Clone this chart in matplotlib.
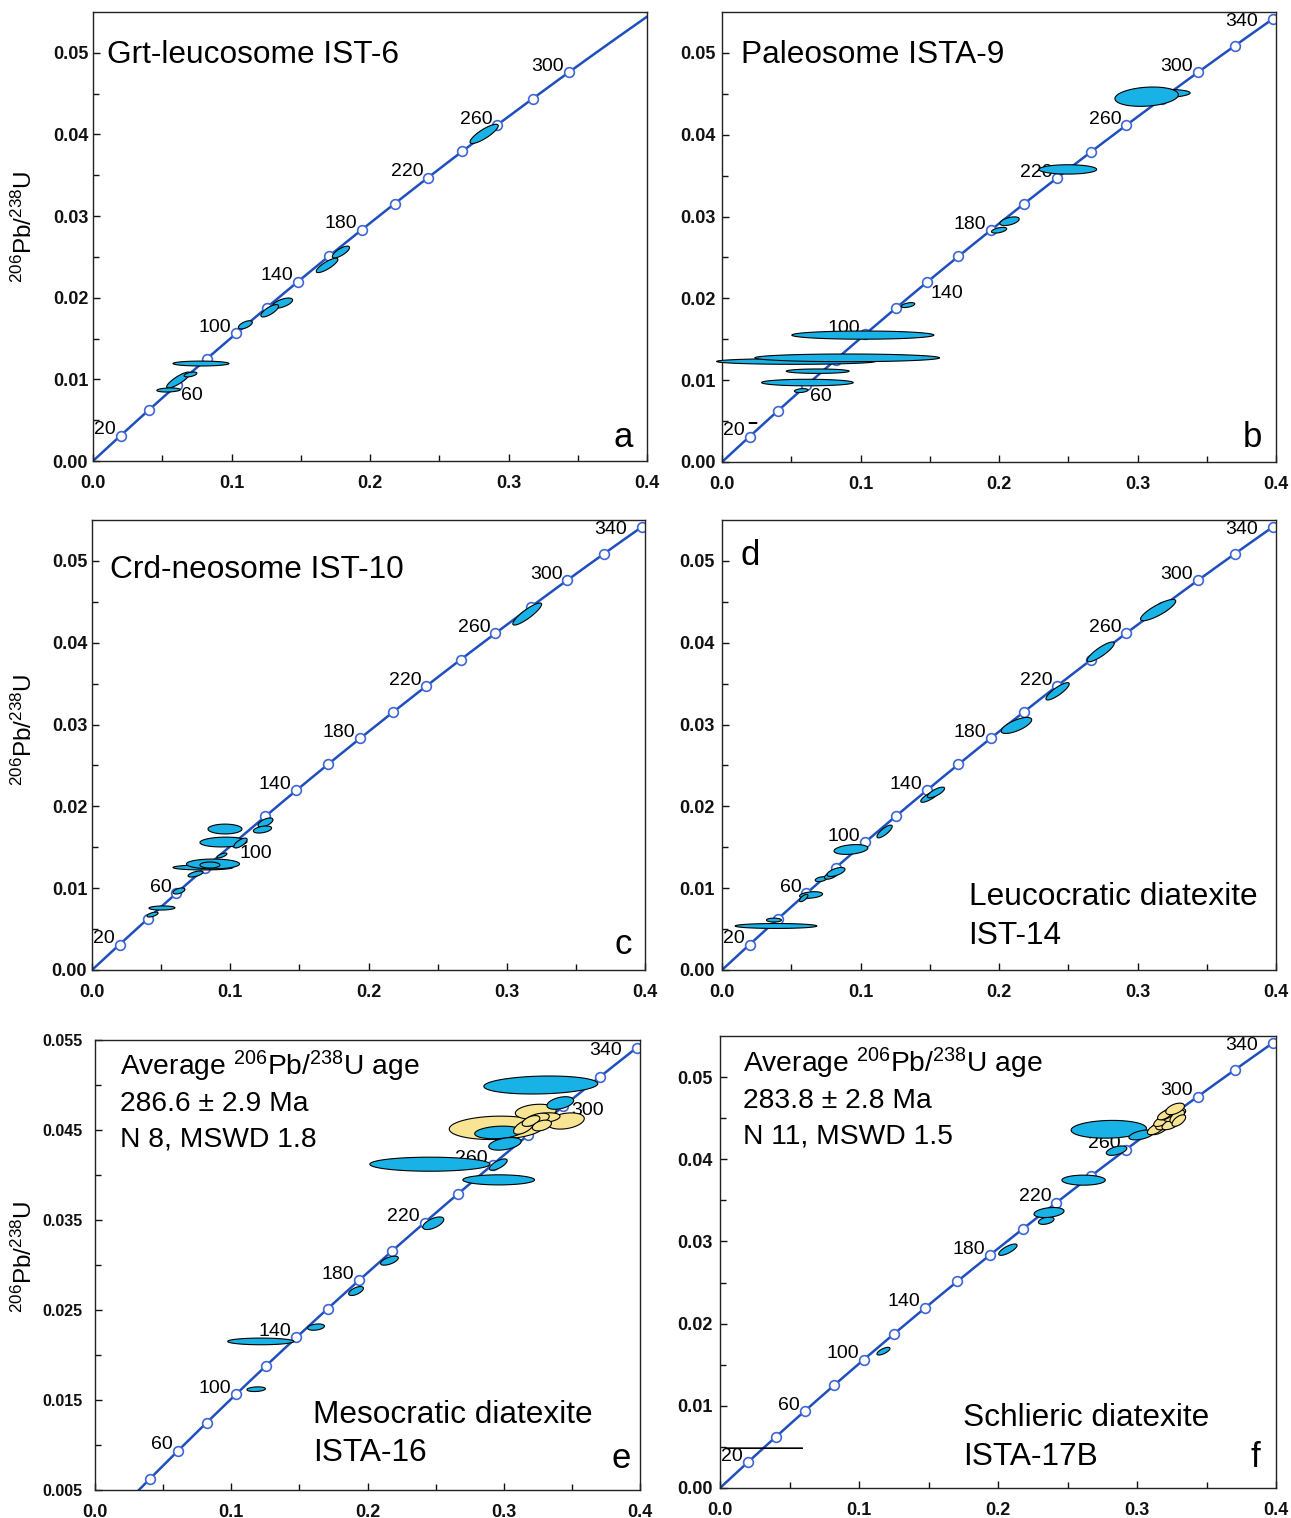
import numpy as np
import matplotlib
matplotlib.use('Agg')
import matplotlib.pyplot as plt

plt.rcParams['font.family'] = ['Liberation Sans', 'DejaVu Sans']
plt.rcParams['mathtext.fontset'] = 'custom'
plt.rcParams['mathtext.rm'] = 'Liberation Sans'
plt.rcParams['mathtext.it'] = 'Liberation Sans:italic'
plt.rcParams['mathtext.bf'] = 'Liberation Sans:bold'

# Decay constants (1/yr) used for the concordia curve
L238 = 1.55125e-10
L235 = 9.8485e-10

# Ages (Ma) of the concordia tick marks, and the ones that get a label
markAges = [20, 40, 60, 80, 100, 120, 140, 160, 180, 200, 220, 240, 260, 280, 300, 320, 340]
labelAges = [20, 60, 100, 140, 180, 220, 260, 300, 340]

# Ellipses: (207Pb/235U, 1s, 206Pb/238U, 1s, rho, colour code b=blue y=yellow)
ellA = [
    (0.0780, 0.0202, 0.01194, 0.00030, 0.0, 'b'),
    (0.0617, 0.0085, 0.00992, 0.00098, 0.85, 'b'),
    (0.0704, 0.0046, 0.01060, 0.00030, 0.5, 'b'),
    (0.0545, 0.0084, 0.00870, 0.00025, 0.2, 'b'),
    (0.1100, 0.0050, 0.01668, 0.00050, 0.6, 'b'),
    (0.1368, 0.0073, 0.01934, 0.00062, 0.6, 'b'),
    (0.1276, 0.0064, 0.01840, 0.00076, 0.75, 'b'),
    (0.1690, 0.0078, 0.02396, 0.00088, 0.82, 'b'),
    (0.1790, 0.0062, 0.02560, 0.00072, 0.75, 'b'),
    (0.2824, 0.0102, 0.04007, 0.00118, 0.84, 'b'),
]
ellB = [
    (0.0534, 0.0573, 0.01229, 0.00035, 0.0, 'b'),
    (0.0904, 0.0667, 0.01273, 0.00047, 0.0, 'b'),
    (0.1017, 0.0513, 0.01551, 0.00050, 0.0, 'b'),
    (0.0691, 0.0227, 0.01110, 0.00027, 0.0, 'b'),
    (0.0617, 0.0331, 0.00971, 0.00040, 0.0, 'b'),
    (0.0572, 0.0049, 0.00873, 0.00024, 0.3, 'b'),
    (0.0224, 0.0030, 0.00477, 0.00001, 0.0, 'b'),
    (0.1343, 0.0049, 0.01918, 0.00030, 0.5, 'b'),
    (0.2001, 0.0055, 0.02833, 0.00035, 0.5, 'b'),
    (0.2076, 0.0070, 0.02943, 0.00053, 0.5, 'b'),
    (0.2497, 0.0208, 0.03576, 0.00057, 0.0, 'b'),
    (0.3150, 0.0230, 0.04500, 0.00055, 0.2, 'b'),
    (0.3066, 0.0229, 0.04465, 0.00118, 0.2, 'b'),
]
ellC = [
    (0.0506, 0.0094, 0.00758, 0.00025, 0.1, 'b'),
    (0.0438, 0.0040, 0.00678, 0.00030, 0.6, 'b'),
    (0.0629, 0.0043, 0.00966, 0.00037, 0.5, 'b'),
    (0.0749, 0.0054, 0.01173, 0.00037, 0.6, 'b'),
    (0.0803, 0.0217, 0.01253, 0.00030, 0.0, 'b'),
    (0.0875, 0.0192, 0.01296, 0.00060, 0.0, 'b'),
    (0.0853, 0.0072, 0.01283, 0.00037, 0.0, 'b'),
    (0.0940, 0.0036, 0.01400, 0.00030, 0.7, 'b'),
    (0.0962, 0.0123, 0.01723, 0.00060, 0.0, 'b'),
    (0.0951, 0.0170, 0.01564, 0.00060, 0.1, 'b'),
    (0.1074, 0.0048, 0.01552, 0.00060, 0.7, 'b'),
    (0.1255, 0.0054, 0.01803, 0.00055, 0.6, 'b'),
    (0.1233, 0.0066, 0.01717, 0.00043, 0.4, 'b'),
    (0.3148, 0.0104, 0.04351, 0.00135, 0.88, 'b'),
]
ellD = [
    (0.0390, 0.0295, 0.00538, 0.00030, 0.0, 'b'),
    (0.0375, 0.0054, 0.00610, 0.00024, 0.0, 'b'),
    (0.0643, 0.0083, 0.00917, 0.00040, 0.3, 'b'),
    (0.0590, 0.0030, 0.00880, 0.00045, 0.7, 'b'),
    (0.0715, 0.0042, 0.01110, 0.00030, 0.4, 'b'),
    (0.0790, 0.0050, 0.01160, 0.00050, 0.6, 'b'),
    (0.0823, 0.0065, 0.01198, 0.00055, 0.6, 'b'),
    (0.0931, 0.0122, 0.01473, 0.00060, 0.3, 'b'),
    (0.1174, 0.0055, 0.01693, 0.00078, 0.8, 'b'),
    (0.1500, 0.0065, 0.02120, 0.00070, 0.8, 'b'),
    (0.1545, 0.0062, 0.02170, 0.00065, 0.75, 'b'),
    (0.2126, 0.0110, 0.02989, 0.00098, 0.7, 'b'),
    (0.2423, 0.0084, 0.03406, 0.00106, 0.85, 'b'),
    (0.2734, 0.0098, 0.03888, 0.00121, 0.86, 'b'),
    (0.3149, 0.0127, 0.04399, 0.00130, 0.84, 'b'),
]
ellE = [
    (0.1183, 0.0068, 0.01620, 0.00026, 0.2, 'b'),
    (0.1217, 0.0243, 0.02151, 0.00037, 0.0, 'b'),
    (0.1622, 0.0062, 0.02310, 0.00035, 0.3, 'b'),
    (0.1916, 0.0054, 0.02711, 0.00050, 0.6, 'b'),
    (0.2161, 0.0065, 0.03048, 0.00050, 0.6, 'b'),
    (0.2483, 0.0077, 0.03464, 0.00070, 0.6, 'b'),
    (0.2963, 0.0263, 0.03946, 0.00056, 0.0, 'b'),
    (0.2458, 0.0441, 0.04120, 0.00078, 0.0, 'b'),
    (0.2960, 0.0065, 0.04116, 0.00063, 0.7, 'b'),
    (0.2944, 0.0344, 0.04524, 0.00130, 0.1, 'y'),
    (0.2960, 0.0173, 0.04473, 0.00070, 0.2, 'b'),
    (0.3009, 0.0119, 0.04346, 0.00070, 0.4, 'b'),
    (0.3235, 0.0150, 0.04703, 0.00083, 0.2, 'y'),
    (0.3455, 0.0136, 0.04600, 0.00090, 0.3, 'y'),
    (0.3149, 0.0077, 0.04536, 0.00083, 0.6, 'y'),
    (0.3303, 0.0110, 0.04636, 0.00055, 0.3, 'y'),
    (0.3241, 0.0093, 0.04617, 0.00070, 0.5, 'y'),
    (0.3200, 0.0065, 0.04600, 0.00060, 0.5, 'y'),
    (0.3280, 0.0070, 0.04550, 0.00060, 0.4, 'y'),
    (0.3272, 0.0418, 0.05000, 0.00100, 0.15, 'b'),
    (0.3415, 0.0098, 0.04800, 0.00070, 0.4, 'b'),
]
ellF = [
    (0.0317, 0.0279, 0.00484, 0.00002, 0.0, 'b'),
    (0.1176, 0.0047, 0.01665, 0.00047, 0.7, 'b'),
    (0.2071, 0.0066, 0.02900, 0.00069, 0.75, 'b'),
    (0.2347, 0.0056, 0.03253, 0.00045, 0.4, 'b'),
    (0.2367, 0.0108, 0.03352, 0.00061, 0.3, 'b'),
    (0.2616, 0.0156, 0.03746, 0.00061, 0.0, 'b'),
    (0.2853, 0.0074, 0.04105, 0.00057, 0.5, 'b'),
    (0.2797, 0.0271, 0.04365, 0.00108, 0.1, 'b'),
    (0.3031, 0.0089, 0.04296, 0.00060, 0.5, 'b'),
    (0.3164, 0.0074, 0.04389, 0.00090, 0.6, 'y'),
    (0.3135, 0.0060, 0.04369, 0.00070, 0.6, 'y'),
    (0.3224, 0.0089, 0.04438, 0.00080, 0.6, 'y'),
    (0.3194, 0.0074, 0.04479, 0.00080, 0.7, 'y'),
    (0.3247, 0.0067, 0.04430, 0.00070, 0.6, 'y'),
    (0.3271, 0.0079, 0.04540, 0.00080, 0.6, 'y'),
    (0.3224, 0.0060, 0.04560, 0.00080, 0.7, 'y'),
    (0.3200, 0.0052, 0.04540, 0.00060, 0.6, 'y'),
    (0.3289, 0.0052, 0.04520, 0.00080, 0.6, 'y'),
    (0.3301, 0.0049, 0.04471, 0.00070, 0.6, 'y'),
    (0.3274, 0.0067, 0.04613, 0.00070, 0.5, 'y'),
]

BLUE = '#18b2e6'
YELLOW = '#f8e593'
LINE = '#1f4fbd'
MARK = '#3f66d6'
W, H = 1291, 1518


def pixelAxes(fig, left, top, right, bottom):
    """Add an axes given its box in pixels of the final image"""
    return fig.add_axes([left / W, 1 - bottom / H, (right - left) / W, (bottom - top) / H])


def setupAxes(ax, ymin, yticks, ylabels, yminor, ypad, ysize=13):
    ax.set_xlim(0, 0.4)
    ax.set_ylim(ymin, 0.055)
    ax.set_xticks([0, 0.1, 0.2, 0.3, 0.4])
    ax.set_xticklabels(['0.0', '0.1', '0.2', '0.3', '0.4'])
    ax.set_xticks([0.05, 0.15, 0.25, 0.35], minor=True)
    ax.set_yticks(yticks)
    ax.set_yticklabels(ylabels)
    ax.set_yticks(yminor, minor=True)
    ax.tick_params(which='both', direction='in', top=False, right=False,
                   width=1.0, colors='#111111')
    ax.tick_params(which='major', length=5)
    ax.tick_params(which='minor', length=4)
    ax.tick_params(axis='x', which='major', pad=10, labelsize=13)
    ax.tick_params(axis='y', which='major', pad=ypad, labelsize=ysize)
    for lab in ax.get_xticklabels() + ax.get_yticklabels():
        lab.set_fontweight('bold')
    for sp in ax.spines.values():
        sp.set_linewidth(1.0)
        sp.set_color('#222222')


def drawEllipses(ax, rows):
    t = np.linspace(0, 2 * np.pi, 120)
    for x, sx, y, sy, rho, c in rows:
        ex = x + sx * np.cos(t)
        ey = y + sy * (rho * np.cos(t) + np.sqrt(1 - rho ** 2) * np.sin(t))
        ax.fill(ex, ey, facecolor=BLUE if c == 'b' else YELLOW,
                edgecolor='black', lw=0.8, zorder=3, clip_on=False)


def drawConcordia(ax, ages, labels, sides):
    t = np.linspace(0, 400e6, 800)
    ax.plot(np.exp(L235 * t) - 1, np.exp(L238 * t) - 1, color=LINE, lw=1.8, zorder=1)
    ta = np.array(ages) * 1e6
    ax.plot(np.exp(L235 * ta) - 1, np.exp(L238 * ta) - 1, 'o', ms=7, mfc='white',
            mec=MARK, mew=1.2, zorder=2)
    for age in labels:
        x = np.exp(L235 * age * 1e6) - 1
        y = np.exp(L238 * age * 1e6) - 1
        side = sides.get(age, 'L')
        if age == 340:
            side = 'W'
        if side == 'L':
            ax.annotate(str(age), (x, y), xytext=(-3.5, 1), textcoords='offset points',
                        ha='right', va='baseline', fontsize=14, zorder=1.5)
        elif side == 'R':
            ax.annotate(str(age), (x, y), xytext=(3, -2), textcoords='offset points',
                        ha='left', va='top', fontsize=14, zorder=1.5)
        elif side == 'W':
            ax.annotate(str(age), (x, y), xytext=(-11, -2), textcoords='offset points',
                        ha='right', va='center', fontsize=14, zorder=1.5)
        else:
            ax.annotate(str(age), (x, y), xytext=(6, -3), textcoords='offset points',
                        ha='left', va='center', fontsize=14, zorder=1.5)


def textLines(ax, x, y, lines, step, size):
    for i, s in enumerate(lines):
        ax.text(x, y - i * step, s, transform=ax.transAxes, fontsize=size,
                ha='left', va='baseline')


def letter(ax, x, y, s):
    ax.text(x, y, s, transform=ax.transAxes, fontsize=25, ha='right', va='baseline')


yt = [0.0, 0.01, 0.02, 0.03, 0.04, 0.05]
ytl = ['0.00', '0.01', '0.02', '0.03', '0.04', '0.05']
ym = [0.005, 0.015, 0.025, 0.035, 0.045]
ytE = [0.005, 0.015, 0.025, 0.035, 0.045, 0.055]
ytlE = ['0.005', '0.015', '0.025', '0.035', '0.045', '0.055']
ymE = [0.01, 0.02, 0.03, 0.04, 0.05]
ylab = r'$^{206}$Pb/$^{238}$U'

fig = plt.figure(figsize=(W / 100, H / 100), dpi=100)

# (a) Grt-leucosome
ax = pixelAxes(fig, 93, 12, 647, 461)
setupAxes(ax, 0, yt, ytl, ym, 3.5)
drawConcordia(ax, [a for a in markAges if a <= 300], [a for a in labelAges if a <= 300], {60: 'R'})
drawEllipses(ax, ellA)
ax.text(0.025, 0.886, 'Grt-leucosome IST-6', transform=ax.transAxes, fontsize=22.8, va='baseline')
letter(ax, 0.975, 0.031, 'a')

# (b) Paleosome
ax = pixelAxes(fig, 722, 12, 1276, 462)
setupAxes(ax, 0, yt, ytl, ym, 4.5)
drawConcordia(ax, markAges, labelAges, {60: 'R', 140: 'R'})
drawEllipses(ax, ellB)
ax.text(0.034, 0.887, 'Paleosome ISTA-9', transform=ax.transAxes, fontsize=22.8, va='baseline')
letter(ax, 0.975, 0.033, 'b')

# (c) Crd-neosome
ax = pixelAxes(fig, 92, 520, 645, 970)
setupAxes(ax, 0, yt, ytl, ym, 3.5)
drawConcordia(ax, markAges, labelAges, {100: 'R'})
drawEllipses(ax, ellC)
ax.text(0.033, 0.871, 'Crd-neosome IST-10', transform=ax.transAxes, fontsize=22.8, va='baseline')
letter(ax, 0.976, 0.036, 'c')

# (d) Leucocratic diatexite
ax = pixelAxes(fig, 722, 520, 1276, 970)
setupAxes(ax, 0, yt, ytl, ym, 5.5)
drawConcordia(ax, markAges, labelAges, {})
drawEllipses(ax, ellD)
ax.text(0.034, 0.9, 'd', transform=ax.transAxes, fontsize=25, va='baseline')
textLines(ax, 0.445, 0.144, ['Leucocratic diatexite', 'IST-14'], 0.086, 22.8)

# (e) Mesocratic diatexite
ax = pixelAxes(fig, 95, 1040, 640, 1490)
setupAxes(ax, 0.005, ytE, ytlE, ymE, 9, 11.5)
drawConcordia(ax, [a for a in markAges if a >= 40], [a for a in labelAges if a >= 60], {300: 'E'})
drawEllipses(ax, ellE)
textLines(ax, 0.046, 0.922, ['Average ' + ylab + ' age', '286.6 \u00b1 2.9 Ma', 'N 8, MSWD 1.8'], 0.0793, 20.3)
textLines(ax, 0.40, 0.149, ['Mesocratic diatexite', 'ISTA-16'], 0.085, 22.8)
letter(ax, 0.983, 0.049, 'e')

# (f) Schlieric diatexite
ax = pixelAxes(fig, 720, 1036, 1276, 1488)
setupAxes(ax, 0, yt, ytl, ym, 5.5)
drawConcordia(ax, markAges, labelAges, {})
drawEllipses(ax, ellF)
textLines(ax, 0.042, 0.920, ['Average ' + ylab + ' age', '283.8 \u00b1 2.8 Ma', 'N 11, MSWD 1.5'], 0.0786, 20.3)
textLines(ax, 0.437, 0.137, ['Schlieric diatexite', 'ISTA-17B'], 0.086, 22.8)
letter(ax, 0.971, 0.046, 'f')

# y-axis titles of the left column
for yc in [227, 730, 1257]:
    fig.text(24 / W, 1 - yc / H, ylab, rotation=90, ha='center', va='center', fontsize=17.5)

fig.savefig('out.png', dpi=100)
